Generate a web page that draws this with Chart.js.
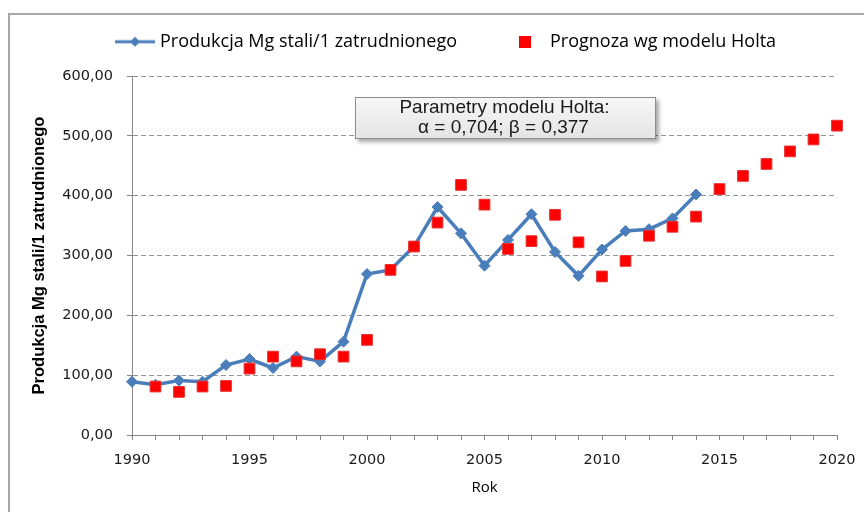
<!DOCTYPE html>
<html lang="pl">
<head>
    <meta charset="UTF-8">
    <title>Produkcja Mg stali / 1 zatrudnionego</title>
    <style>
        body { margin: 0; background: #fff; overflow: hidden; }
        #wrap { position: relative; width: 864px; height: 512px; overflow: hidden; }
        #frame { position: absolute; left: 8px; top: 13px; width: 1000px; height: 1000px;
                 border: 2px solid #a6a6a6; pointer-events: none; }
    </style>
</head>
<body>
<div id="wrap">
    <canvas id="myChart" width="864" height="512"></canvas>
    <div id="frame"></div>
</div>
<script src="https://cdn.jsdelivr.net/npm/chart.js"></script>
<script>
    // data
    const years = [1990, 1991, 1992, 1993, 1994, 1995, 1996, 1997, 1998, 1999,
        2000, 2001, 2002, 2003, 2004, 2005, 2006, 2007, 2008, 2009,
        2010, 2011, 2012, 2013, 2014];
    const production = [89, 84, 91, 89, 117, 127, 112, 131, 123, 156,
        269, 276, 315, 381, 337, 283, 326, 369, 306, 266,
        310, 341, 344, 362, 402];
    const forecastYears = [1991, 1992, 1993, 1994, 1995, 1996, 1997, 1998, 1999, 2000,
        2001, 2002, 2003, 2004, 2005, 2006, 2007, 2008, 2009, 2010,
        2011, 2012, 2013, 2014, 2015, 2016, 2017, 2018, 2019, 2020];
    const forecast = [81, 72, 81, 82, 111, 131, 123, 135, 131, 159,
        276, 315, 355, 418, 385, 311, 324, 368, 322, 265,
        291, 333, 348, 365, 411, 433, 453, 474, 494, 517];
    const xLabelYears = [1990, 1995, 2000, 2005, 2010, 2015, 2020];
    const seriesNames = ['Produkcja Mg stali/1 zatrudnionego', 'Prognoza wg modelu Holta'];
    const yTitle = 'Produkcja Mg stali/1 zatrudnionego';
    const xTitle = 'Rok';
    const boxLines = ['Parametry modelu Holta:', '\u03b1 = 0,704; \u03b2 = 0,377'];

    const lineColor = '#4a7ebb';
    const squareColor = '#ff0000';
    const axisColor = '#868686';
    const tickFont = {family: "'DejaVu Sans', sans-serif", size: 14.5};
    const legendFont = {family: "'Open Sans', sans-serif", size: 18};

    function makeIcon(w, h, draw) {
        let c = document.createElement('canvas');
        c.width = w;
        c.height = h;
        draw(c.getContext('2d'));
        return c;
    }

    const lineIcon = makeIcon(40, 12, g => {
        g.strokeStyle = lineColor;
        g.lineWidth = 3;
        g.beginPath();
        g.moveTo(0, 6);
        g.lineTo(40, 6);
        g.stroke();
        g.fillStyle = lineColor;
        g.beginPath();
        g.moveTo(20, 1);
        g.lineTo(25, 6);
        g.lineTo(20, 11);
        g.lineTo(15, 6);
        g.closePath();
        g.fill();
    });
    const squareIcon = makeIcon(12, 12, g => {
        g.fillStyle = squareColor;
        g.fillRect(0, 0, 12, 12);
    });

    // spacing between legend items so the second one lands where it is in the picture
    let measure = document.createElement('canvas').getContext('2d');
    measure.font = legendFont.size + 'px ' + legendFont.family;
    const legendGap = Math.max(10, 349 - measure.measureText(seriesNames[0]).width);

    const placeLegend = {
        id: 'placeLegend',
        afterLayout(chart) {
            let lg = chart.legend;
            let dx = 119 - legendGap - lg.left;
            lg.left += dx;
            lg.right += dx;
            lg.top = 41.7 - legendFont.size / 2 - legendGap;
            lg.bottom = 70;
            lg.height = lg.bottom - lg.top;
        }
    };

    const holtBox = {
        id: 'holtBox',
        afterDraw(chart) {
            let ctx = chart.ctx;
            let x = 355, y = 97, w = 301, h = 42;
            ctx.save();
            ctx.shadowColor = 'rgba(0,0,0,0.35)';
            ctx.shadowBlur = 4;
            ctx.shadowOffsetX = 3;
            ctx.shadowOffsetY = 3;
            let g = ctx.createLinearGradient(0, y, 0, y + h);
            g.addColorStop(0, '#f7f7f7');
            g.addColorStop(1, '#e4e4e4');
            ctx.fillStyle = g;
            ctx.fillRect(x, y, w, h);
            ctx.restore();
            ctx.save();
            ctx.strokeStyle = '#8c8c8c';
            ctx.lineWidth = 1;
            ctx.strokeRect(x + 0.5, y + 0.5, w - 1, h - 1);
            ctx.fillStyle = '#1a1a1a';
            ctx.font = "19px 'Liberation Sans', Arial, sans-serif";
            ctx.textAlign = 'center';
            ctx.textBaseline = 'middle';
            ctx.fillText(boxLines[0], x + w / 2 - 1, 108);
            ctx.fillText(boxLines[1], x + w / 2 - 2, 128);
            ctx.restore();
        }
    };

    let ctx = document.getElementById('myChart').getContext('2d');
    new Chart(ctx, {
        type: 'scatter',
        data: {
            datasets: [
                {
                    label: seriesNames[0],
                    data: years.map((yr, i) => ({x: yr, y: production[i]})),
                    showLine: true,
                    borderColor: lineColor,
                    backgroundColor: lineColor,
                    borderWidth: 3.5,
                    pointStyle: 'rectRot',
                    pointRadius: 5.5,
                    pointBorderWidth: 1,
                    pointHoverRadius: 5.5,
                    tension: 0,
                    clip: false,
                    order: 1
                },
                {
                    label: seriesNames[1],
                    data: forecastYears.map((yr, i) => ({x: yr, y: forecast[i]})),
                    showLine: false,
                    borderColor: '#e83030',
                    backgroundColor: squareColor,
                    pointStyle: 'rect',
                    pointRadius: 7.6,
                    pointBorderWidth: 1,
                    pointHoverRadius: 7.6,
                    clip: false,
                    order: 0
                }
            ]
        },
        options: {
            responsive: false,
            animation: false,
            layout: {padding: {left: 0, right: 27, top: 0, bottom: 0}},
            plugins: {
                tooltip: {enabled: false},
                legend: {
                    position: 'top',
                    align: 'start',
                    maxHeight: 76,
                    labels: {
                        usePointStyle: true,
                        pointStyleWidth: 32,
                        boxHeight: 12,
                        padding: legendGap,
                        color: '#1a1a1a',
                        font: legendFont,
                        generateLabels: () => [
                            {text: seriesNames[0], pointStyle: lineIcon, fillStyle: lineColor,
                                strokeStyle: lineColor, lineWidth: 0, hidden: false, datasetIndex: 0},
                            {text: seriesNames[1], pointStyle: squareIcon, fillStyle: squareColor,
                                strokeStyle: squareColor, lineWidth: 0, hidden: false, datasetIndex: 1}
                        ]
                    }
                }
            },
            scales: {
                x: {
                    type: 'linear',
                    min: 1990,
                    max: 2020,
                    afterFit: scale => {
                        scale.height = 77;
                        scale.paddingLeft = 0;
                        scale.paddingRight = 0;
                    },
                    ticks: {
                        stepSize: 1,
                        autoSkip: false,
                        maxRotation: 0,
                        padding: 12,
                        color: '#1a1a1a',
                        font: tickFont,
                        callback: v => xLabelYears.includes(Math.round(v)) ? String(Math.round(v)) : ''
                    },
                    grid: {drawOnChartArea: false, tickLength: 5, tickColor: axisColor},
                    border: {color: axisColor, width: 1},
                    title: {
                        display: true,
                        text: xTitle,
                        color: '#000',
                        font: {family: "'Open Sans', sans-serif", size: 15},
                        padding: {top: 0, bottom: 15}
                    }
                },
                y: {
                    min: 0,
                    max: 600,
                    afterFit: scale => { scale.width = 132; },
                    ticks: {
                        stepSize: 100,
                        padding: 14,
                        color: '#1a1a1a',
                        font: tickFont,
                        callback: v => v.toFixed(2).replace('.', ',')
                    },
                    grid: {color: '#969696', lineWidth: 1, tickLength: 5, tickColor: axisColor, tickBorderDash: []},
                    border: {color: axisColor, width: 1, dash: [5, 3]},
                    title: {
                        display: true,
                        text: yTitle,
                        color: '#000',
                        font: {family: "'Liberation Sans', sans-serif", size: 16.5, weight: 'bold'},
                        padding: {top: 30, bottom: 0}
                    }
                }
            }
        },
        plugins: [placeLegend, holtBox]
    });
</script>
</body>
</html>
